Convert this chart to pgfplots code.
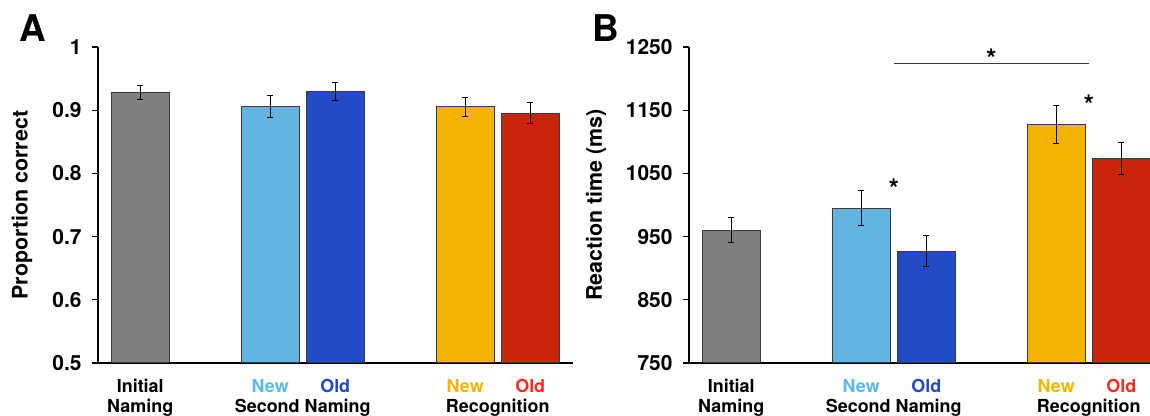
\documentclass[border=0pt]{standalone}
\usepackage{pgfplots}
\pgfplotsset{compat=1.18}
\usepackage{fontspec}
\setmainfont{TeX Gyre Heros}
\definecolor{cgray}{HTML}{7F7F7F}
\definecolor{clb}{HTML}{64B4E1}
\definecolor{cblue}{HTML}{234BC8}
\definecolor{cyel}{HTML}{F2B300}
\definecolor{cred}{HTML}{C8250A}
\definecolor{tlb}{HTML}{5DB8EC}
\definecolor{tblue}{HTML}{2246CC}
\definecolor{tyel}{HTML}{F5B400}
\definecolor{tred}{HTML}{FF2A1A}
\definecolor{barline}{HTML}{3A3A3A}
\tikzset{
 lab/.style={anchor=base, inner sep=0pt, font=\fontsize{18}{22}\selectfont\bfseries},
 star/.style={anchor=north, inner sep=0pt, font=\fontsize{27}{30}\selectfont\bfseries},
}
\pgfplotsset{
 panel/.style={
  scale only axis, width=474.5bp, height=316bp, anchor=south west,
  xmin=-0.65, xmax=6.65,
  axis x line*=bottom, axis y line*=left,
  axis line style={black, line width=1.8bp},
  xtick=\empty,
  tick align=outside, major tick length=6bp,
  ytick style={black, line width=1.2bp},
  yticklabel style={font=\fontsize{21}{25}\selectfont\bfseries, xshift=-7bp},
  ylabel style={font=\fontsize{21.5}{25}\selectfont\bfseries, anchor=center},
  ybar, bar shift=0pt, bar width=58bp,
  clip mode=individual,
  every axis plot/.append style={draw=barline, line width=1bp},
  error bars/y dir=both, error bars/y explicit,
  error bars/error bar style={black, line width=1bp},
  error bars/error mark options={rotate=90, mark size=2.8bp, black, line width=1bp},
 },
}
\begin{document}
\begin{tikzpicture}
\useasboundingbox (0,0) rectangle (1150bp,416bp);
\clip (0,0) rectangle (1150bp,416bp);
\node[anchor=center, font=\fontsize{37}{40}\selectfont\bfseries] at (33bp,388bp) {A};
\node[anchor=center, font=\fontsize{37}{40}\selectfont\bfseries] at (606bp,388bp) {B};

\begin{axis}[panel, at={(98bp,53bp)},
  ymin=0.5, ymax=1, ytick={0.5,0.6,0.7,0.8,0.9,1},
  yticklabels={0.5,0.6,0.7,0.8,0.9,1},
  ylabel={Proportion correct},
  ylabel style={at={(axis description cs:-0.160,0.5)}}]
\addplot[fill=cgray] coordinates {(0,0.928) +- (0,0.0105)};
\addplot[fill=clb] coordinates {(2,0.9055) +- (0,0.017)};
\addplot[fill=cblue] coordinates {(3,0.930) +- (0,0.014)};
\addplot[fill=cyel] coordinates {(5,0.9055) +- (0,0.015)};
\addplot[fill=cred] coordinates {(6,0.8955) +- (0,0.016)};
\node[lab, yshift=-30bp] at (axis cs:0,0.5) {Initial};
\node[lab, yshift=-49.5bp] at (axis cs:0,0.5) {Naming};
\node[lab, yshift=-30bp, text=tlb] at (axis cs:2,0.5) {New};
\node[lab, yshift=-30bp, text=tblue] at (axis cs:3,0.5) {Old};
\node[lab, yshift=-49.5bp] at (axis cs:2.5,0.5) {Second Naming};
\node[lab, yshift=-30bp, text=tyel] at (axis cs:5,0.5) {New};
\node[lab, yshift=-30bp, text=tred] at (axis cs:6,0.5) {Old};
\node[lab, yshift=-49.5bp] at (axis cs:5.5,0.5) {Recognition};
\end{axis}

\begin{axis}[panel, at={(689bp,53bp)},
  ymin=750, ymax=1250, ytick={750,850,950,1050,1150,1250},
  yticklabels={750,850,950,1050,1150,1250},
  ylabel={Reaction time (ms)},
  ylabel style={at={(axis description cs:-0.196,0.5)}}]
\addplot[fill=cgray] coordinates {(0,960) +- (0,20)};
\addplot[fill=clb] coordinates {(2,995) +- (0,28)};
\addplot[fill=cblue] coordinates {(3,927) +- (0,25)};
\addplot[fill=cyel] coordinates {(5,1128) +- (0,30)};
\addplot[fill=cred] coordinates {(6,1074) +- (0,25)};
\draw[barline, line width=1bp] (axis cs:2.5,1224) -- (axis cs:5.5,1224);
\node[star] at (axis cs:4,1247) {*};
\node[star] at (axis cs:2.5,1041) {*};
\node[star] at (axis cs:5.5,1174) {*};
\node[lab, yshift=-30bp] at (axis cs:0,750) {Initial};
\node[lab, yshift=-49.5bp] at (axis cs:0,750) {Naming};
\node[lab, yshift=-30bp, text=tlb] at (axis cs:2,750) {New};
\node[lab, yshift=-30bp, text=tblue] at (axis cs:3,750) {Old};
\node[lab, yshift=-49.5bp] at (axis cs:2.5,750) {Second Naming};
\node[lab, yshift=-30bp, text=tyel] at (axis cs:5,750) {New};
\node[lab, yshift=-30bp, text=tred] at (axis cs:6,750) {Old};
\node[lab, yshift=-49.5bp] at (axis cs:5.5,750) {Recognition};
\end{axis}
\end{tikzpicture}
\end{document}
